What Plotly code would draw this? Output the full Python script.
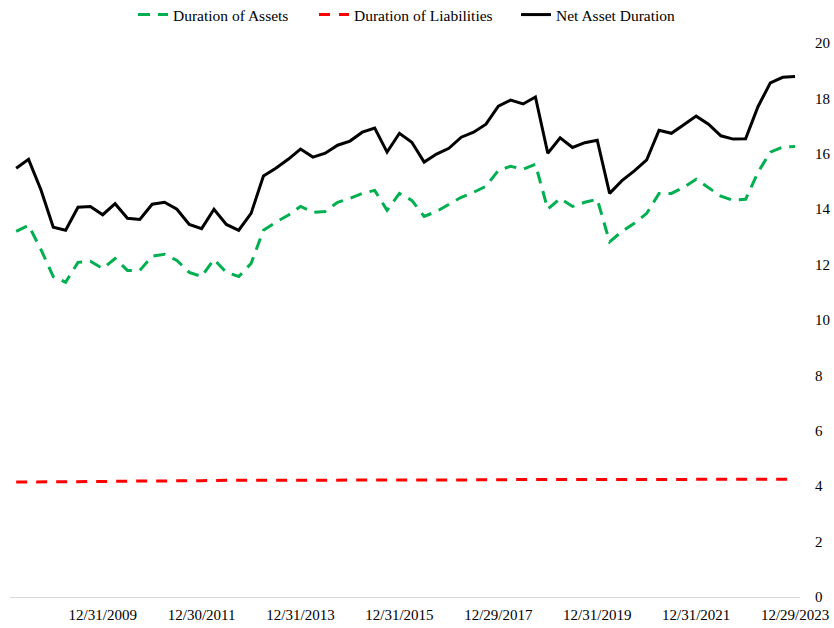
import pandas as pd
import plotly.graph_objects as go

# Quarter-end (business day) dates, Q1 2008 .. Q4 2023
try:
    dates = pd.date_range("2008-01-01", "2023-12-31", freq="BQE-DEC")
except Exception:
    dates = pd.date_range("2008-01-01", "2023-12-31", freq="BQ-DEC")
categories = [d.strftime("%m/%d/%Y") for d in dates]

net_asset_duration = [
    15.48, 15.80, 14.70, 13.35, 13.24, 14.07, 14.10, 13.80, 14.20, 13.67,
    13.63, 14.18, 14.25, 14.00, 13.45, 13.30, 14.00, 13.45, 13.24, 13.85,
    15.20, 15.48, 15.80, 16.17, 15.88, 16.02, 16.31, 16.46, 16.78, 16.93,
    16.06, 16.74, 16.42, 15.70, 15.99, 16.20, 16.60, 16.78, 17.07, 17.72,
    17.94, 17.80, 18.05, 16.02, 16.58, 16.23, 16.40, 16.49, 14.57, 15.03,
    15.38, 15.78, 16.85, 16.74, 17.05, 17.36, 17.07, 16.65, 16.53, 16.54,
    17.70, 18.56, 18.76, 18.79,
]
duration_of_assets = [
    13.20, 13.42, 12.55, 11.57, 11.36, 12.08, 12.12, 11.86, 12.22, 11.79,
    11.79, 12.30, 12.37, 12.15, 11.72, 11.57, 12.19, 11.72, 11.57, 12.04,
    13.24, 13.53, 13.78, 14.10, 13.89, 13.92, 14.25, 14.39, 14.57, 14.68,
    13.96, 14.57, 14.32, 13.74, 13.92, 14.18, 14.43, 14.61, 14.83, 15.40,
    15.55, 15.44, 15.62, 14.00, 14.39, 14.10, 14.25, 14.36, 12.82, 13.20,
    13.49, 13.85, 14.57, 14.57, 14.79, 15.08, 14.79, 14.47, 14.32, 14.36,
    15.33, 16.06, 16.24, 16.26,
]
duration_of_liabilities = [
    4.15, 4.15, 4.16, 4.16, 4.16, 4.17, 4.17, 4.17, 4.18, 4.18,
    4.18, 4.19, 4.19, 4.20, 4.20, 4.20, 4.21, 4.21, 4.21, 4.22,
    4.22, 4.22, 4.22, 4.23, 4.23, 4.23, 4.23, 4.23, 4.23, 4.23,
    4.23, 4.23, 4.23, 4.23, 4.23, 4.23, 4.23, 4.23, 4.23, 4.23,
    4.24, 4.24, 4.24, 4.24, 4.24, 4.24, 4.24, 4.24, 4.24, 4.24,
    4.24, 4.24, 4.24, 4.24, 4.24, 4.24, 4.24, 4.24, 4.25, 4.25,
    4.25, 4.25, 4.25, 4.25,
]
tick_labels = ["12/31/2009", "12/30/2011", "12/31/2013", "12/31/2015",
               "12/29/2017", "12/31/2019", "12/31/2021", "12/29/2023"]
y_ticks = [0, 2, 4, 6, 8, 10, 12, 14, 16, 18, 20]

FONT = "Liberation Serif, Times New Roman, serif"
W, H = 834, 628

fig = go.Figure()
fig.add_trace(go.Scatter(
    x=categories, y=duration_of_assets, mode="lines", name="Duration of Assets",
    legend="legend",
    line=dict(color="#00b050", width=3, dash="12px,8px")))
fig.add_trace(go.Scatter(
    x=categories, y=duration_of_liabilities, mode="lines", name="Duration of Liabilities",
    legend="legend2",
    line=dict(color="#ff0000", width=3, dash="11px,9px")))
fig.add_trace(go.Scatter(
    x=categories, y=net_asset_duration, mode="lines", name="Net Asset Duration",
    legend="legend3",
    line=dict(color="#000000", width=3)))


def leg(xpx):
    return dict(orientation="h", xref="container", yref="container",
                x=xpx / W, xanchor="left", y=1 - 15 / H, yanchor="middle",
                font=dict(family=FONT, size=15.5), bgcolor="rgba(0,0,0,0)")


fig.update_layout(
    width=W, height=H,
    paper_bgcolor="white", plot_bgcolor="white",
    margin=dict(l=10, r=34, t=43, b=31, autoexpand=False),
    font=dict(family=FONT, size=15, color="#000000"),
    showlegend=True,
    legend=leg(133), legend2=leg(314), legend3=leg(516),
    xaxis=dict(type="category", categoryorder="array", categoryarray=categories,
               tickmode="array", tickvals=tick_labels, ticktext=tick_labels,
               showgrid=False, zeroline=False, showline=True, linecolor="#d9d9d9",
               linewidth=1, ticks="", range=[-0.5, 63.4], automargin=False,
               ticklabelstandoff=4, tickfont=dict(size=15)),
    yaxis=dict(side="right", range=[0, 20], tickmode="array", tickvals=y_ticks,
               showgrid=False, zeroline=False, showline=False, ticks="",
               automargin=False, ticklabelstandoff=14, tickfont=dict(size=15)),
)
fig.write_html("out.html", config={"displayModeBar": False},
               post_script="document.body.style.margin='0';document.body.style.padding='0';")
